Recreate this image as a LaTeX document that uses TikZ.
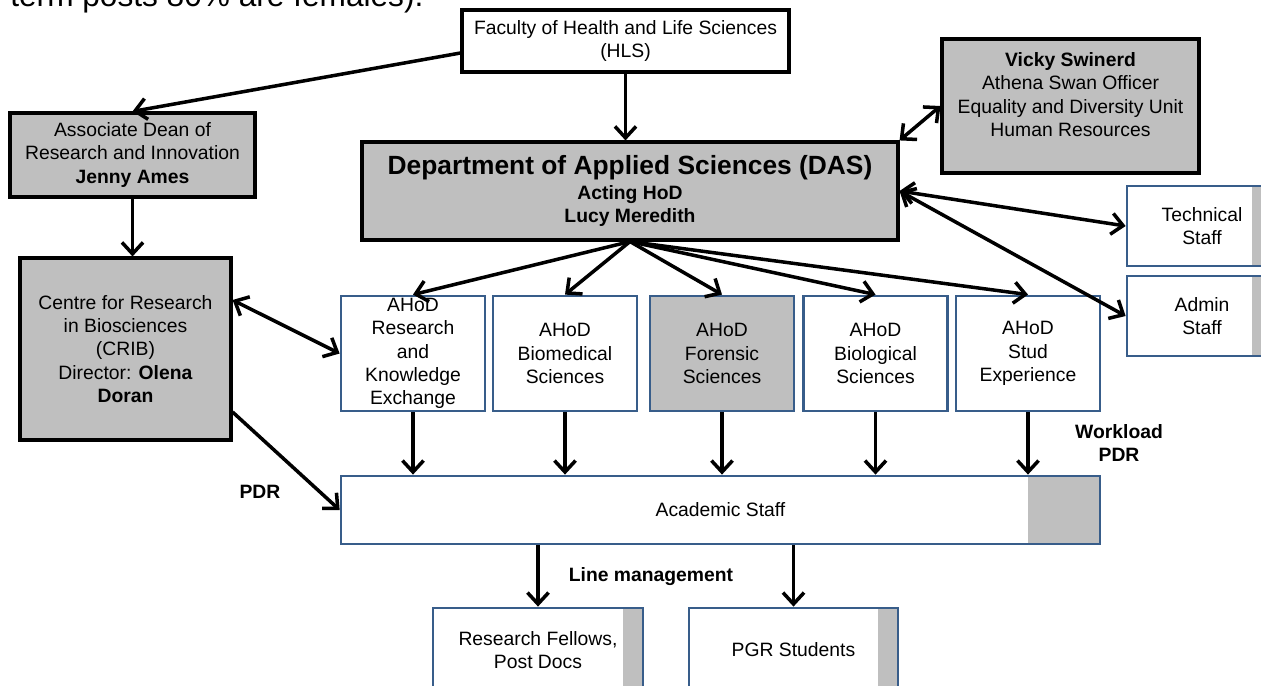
\documentclass[tikz,border=0pt]{standalone}
\usepackage{fontspec}
\setmainfont{Liberation Sans}
\usetikzlibrary{arrows.meta,calc}

\definecolor{boxgray}{RGB}{191,191,191}
\definecolor{boxblue}{RGB}{56,93,138}

\begin{document}
\begin{tikzpicture}[
  x=0.02cm, y=-0.02cm,
  every node/.style={font=\fontsize{11}{13.3}\selectfont},
  greybox/.style={rectangle, draw=black, fill=boxgray, line width=1.8pt, align=center, inner sep=2pt},
  whitebox/.style={rectangle, draw=black, fill=white, line width=1.8pt, align=center, inner sep=2pt},
  bluebox/.style={rectangle, draw=boxblue, fill=white, line width=1.6pt, align=center, inner sep=0pt},
  ahod/.style={bluebox, minimum width=2.88cm, minimum height=2.3cm},
  strip/.style={path picture={\fill[boxgray] ([xshift=-#1]path picture bounding box.north east)
                rectangle (path picture bounding box.south east);}},
  arr/.style={-{Straight Barb[length=6.5pt,width=12pt]}, line width=2pt},
  darr/.style={{Straight Barb[length=6.5pt,width=12pt]}-{Straight Barb[length=6.5pt,width=12pt]}, line width=2pt},
  tag/.style={font=\fontsize{11}{13.3}\selectfont\bfseries, align=center}
]

% Page is the cropped slide: everything is laid out in pixels of it.
\useasboundingbox (0,0) rectangle (1261,686);
\clip (0,0) rectangle (1261,686);

\node[anchor=base west, inner sep=0pt, font=\fontsize{18}{20}\selectfont] (note) at (10,7) {term posts 80\% are females).};

% Faculty and department.
\node[whitebox, minimum width=6.54cm, minimum height=1.24cm] (HLS) at (625.5,41)
  {Faculty of Health and Life Sciences\\(HLS)};
\node[greybox, minimum width=10.72cm, minimum height=1.96cm] (DAS) at (630,191)
  {{\fontsize{15}{17}\selectfont\bfseries Department of Applied Sciences (DAS)}\\[1pt]
   \textbf{Acting HoD}\\\textbf{Lucy Meredith}};
\node[greybox, minimum width=5.14cm, minimum height=2.68cm] (Vicky) at (1070.5,106)
  {\textbf{Vicky Swinerd}\\Athena Swan Officer\\Equality and Diversity Unit\\Human Resources\\~};

% Research side on the left.
\node[greybox, minimum width=4.9cm, minimum height=1.68cm] (Dean) at (132.5,155)
  {Associate Dean of\\Research and Innovation\\\textbf{Jenny Ames}};
\node[greybox, minimum width=4.22cm, minimum height=3.64cm] (CRIB) at (125.5,349)
  {Centre for Research\\in Biosciences\\(CRIB)\\Director: \textbf{Olena}\\\textbf{Doran}};

% Support staff, cut off by the right edge.
\node[bluebox, strip=0.5cm, minimum width=3cm, minimum height=1.6cm] (Tech) at (1202,226) {Technical\\Staff};
\node[bluebox, strip=0.5cm, minimum width=3cm, minimum height=1.6cm] (Admin) at (1202,316) {Admin\\Staff};

% Associate heads of department.
\node[ahod] (RKE) at (413,353.5) {AHoD\\Research\\and\\Knowledge\\Exchange};
\node[ahod] (Biomed) at (565,353.5) {AHoD\\Biomedical\\Sciences};
\node[ahod, fill=boxgray] (Foren) at (722,353.5) {AHoD\\Forensic\\Sciences};
\node[ahod] (Biol) at (875.5,353.5) {AHoD\\Biological\\Sciences};
\node[ahod] (Stud) at (1028,353.5) {AHoD\\Stud\\Experience};

% Staff below.
\node[bluebox, strip=1.44cm, minimum width=15.18cm, minimum height=1.36cm] (Acad) at (720.5,510) {Academic Staff};
\node[bluebox, strip=0.4cm, minimum width=4.2cm, minimum height=1.68cm] (Fellows) at (538,650) {Research Fellows,\\Post Docs};
\node[bluebox, strip=0.4cm, minimum width=4.18cm, minimum height=1.68cm] (PGR) at (793.5,650) {PGR Students};

\node[tag] (wl) at (1119,443) {Workload\\PDR};
\node[tag] (pdr) at (260,492) {PDR};
\node[tag] (lm) at (651,577) {Line management};

% Connectors.
\draw[arr] ($(HLS.west)+(0,12)$) -- (Dean.north);
\draw[arr] (HLS.south) -- (HLS.south |- DAS.north);
\draw[arr] (Dean.south) -- (Dean.south |- CRIB.north);
\draw[darr] ($(CRIB.east)+(0,-49)$) -- (RKE.west);
\draw[arr] ($(CRIB.east)+(0,63)$) -- (Acad.west);
\draw[darr] (DAS.north east) -- (Vicky.west);
\draw[darr] (DAS.east) -- (Tech.west);
\draw[darr] (DAS.east) -- (Admin.west);
\foreach \b in {RKE,Biomed,Foren,Biol,Stud} {
  \draw[arr] (DAS.south) -- (\b.north);
  \draw[arr] (\b.south) -- (\b.south |- Acad.north);
}
\draw[arr] (Fellows.north |- Acad.south) -- (Fellows.north);
\draw[arr] (PGR.north |- Acad.south) -- (PGR.north);

\end{tikzpicture}
\end{document}
